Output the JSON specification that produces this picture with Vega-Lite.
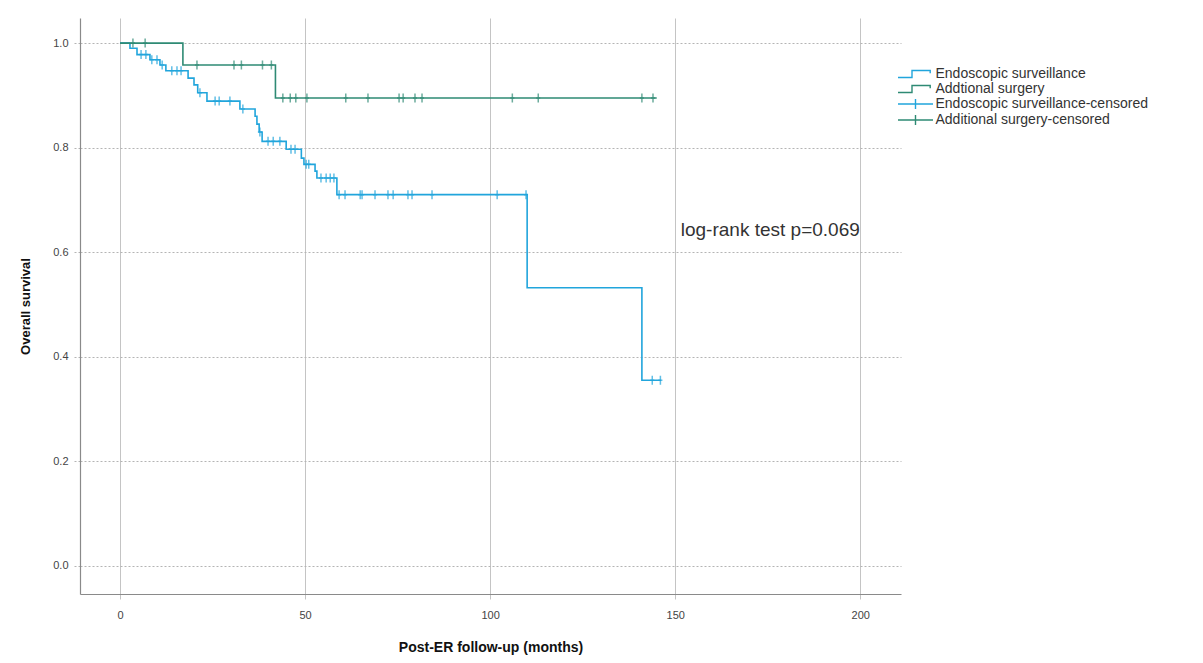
{
  "$schema": "https://vega.github.io/schema/vega-lite/v6.json",
  "autosize": "none",
  "width": 821,
  "height": 576,
  "padding": {"left": 80, "top": 18, "right": 302, "bottom": 69},
  "background": "white",
  "config": {
    "font": "Liberation Sans",
    "view": {"stroke": null},
    "axis": {"labelFont": "Liberation Sans", "titleFont": "Liberation Sans", "labelColor": "#444444", "titleColor": "#111111"}
  },
  "datasets": {
    "curves": [
      {"series": "Endoscopic surveillance", "t": 0, "s": 1.0},
      {"series": "Endoscopic surveillance", "t": 2.7, "s": 0.99},
      {"series": "Endoscopic surveillance", "t": 4.6, "s": 0.978},
      {"series": "Endoscopic surveillance", "t": 8.1, "s": 0.968},
      {"series": "Endoscopic surveillance", "t": 10.8, "s": 0.958},
      {"series": "Endoscopic surveillance", "t": 12.4, "s": 0.947},
      {"series": "Endoscopic surveillance", "t": 18.4, "s": 0.933},
      {"series": "Endoscopic surveillance", "t": 20.0, "s": 0.92},
      {"series": "Endoscopic surveillance", "t": 21.0, "s": 0.905},
      {"series": "Endoscopic surveillance", "t": 23.5, "s": 0.889},
      {"series": "Endoscopic surveillance", "t": 32.4, "s": 0.874},
      {"series": "Endoscopic surveillance", "t": 36.5, "s": 0.86},
      {"series": "Endoscopic surveillance", "t": 37.0, "s": 0.845},
      {"series": "Endoscopic surveillance", "t": 37.6, "s": 0.83},
      {"series": "Endoscopic surveillance", "t": 38.4, "s": 0.812},
      {"series": "Endoscopic surveillance", "t": 44.9, "s": 0.797},
      {"series": "Endoscopic surveillance", "t": 49.0, "s": 0.78},
      {"series": "Endoscopic surveillance", "t": 49.7, "s": 0.768},
      {"series": "Endoscopic surveillance", "t": 52.7, "s": 0.755},
      {"series": "Endoscopic surveillance", "t": 53.2, "s": 0.742},
      {"series": "Endoscopic surveillance", "t": 58.6, "s": 0.71},
      {"series": "Endoscopic surveillance", "t": 110.0, "s": 0.532},
      {"series": "Endoscopic surveillance", "t": 141.0, "s": 0.355},
      {"series": "Endoscopic surveillance", "t": 146.2, "s": 0.355},
      {"series": "Addtional surgery", "t": 0, "s": 1.0},
      {"series": "Addtional surgery", "t": 17.0, "s": 0.958},
      {"series": "Addtional surgery", "t": 42.0, "s": 0.895},
      {"series": "Addtional surgery", "t": 145.0, "s": 0.895}
    ],
    "censor": [
      {"series": "Endoscopic surveillance-censored", "t": 5.7, "s": 0.978},
      {"series": "Endoscopic surveillance-censored", "t": 7.0, "s": 0.978},
      {"series": "Endoscopic surveillance-censored", "t": 8.6, "s": 0.968},
      {"series": "Endoscopic surveillance-censored", "t": 10.0, "s": 0.968},
      {"series": "Endoscopic surveillance-censored", "t": 11.4, "s": 0.958},
      {"series": "Endoscopic surveillance-censored", "t": 14.0, "s": 0.947},
      {"series": "Endoscopic surveillance-censored", "t": 15.4, "s": 0.947},
      {"series": "Endoscopic surveillance-censored", "t": 16.5, "s": 0.947},
      {"series": "Endoscopic surveillance-censored", "t": 21.6, "s": 0.905},
      {"series": "Endoscopic surveillance-censored", "t": 25.7, "s": 0.889},
      {"series": "Endoscopic surveillance-censored", "t": 26.8, "s": 0.889},
      {"series": "Endoscopic surveillance-censored", "t": 29.7, "s": 0.889},
      {"series": "Endoscopic surveillance-censored", "t": 33.2, "s": 0.874},
      {"series": "Endoscopic surveillance-censored", "t": 37.8, "s": 0.83},
      {"series": "Endoscopic surveillance-censored", "t": 40.0, "s": 0.812},
      {"series": "Endoscopic surveillance-censored", "t": 41.4, "s": 0.812},
      {"series": "Endoscopic surveillance-censored", "t": 43.2, "s": 0.812},
      {"series": "Endoscopic surveillance-censored", "t": 46.2, "s": 0.797},
      {"series": "Endoscopic surveillance-censored", "t": 47.3, "s": 0.797},
      {"series": "Endoscopic surveillance-censored", "t": 50.3, "s": 0.768},
      {"series": "Endoscopic surveillance-censored", "t": 51.0, "s": 0.768},
      {"series": "Endoscopic surveillance-censored", "t": 54.3, "s": 0.742},
      {"series": "Endoscopic surveillance-censored", "t": 55.7, "s": 0.742},
      {"series": "Endoscopic surveillance-censored", "t": 56.8, "s": 0.742},
      {"series": "Endoscopic surveillance-censored", "t": 57.8, "s": 0.742},
      {"series": "Endoscopic surveillance-censored", "t": 59.2, "s": 0.71},
      {"series": "Endoscopic surveillance-censored", "t": 60.8, "s": 0.71},
      {"series": "Endoscopic surveillance-censored", "t": 64.9, "s": 0.71},
      {"series": "Endoscopic surveillance-censored", "t": 65.4, "s": 0.71},
      {"series": "Endoscopic surveillance-censored", "t": 68.9, "s": 0.71},
      {"series": "Endoscopic surveillance-censored", "t": 72.4, "s": 0.71},
      {"series": "Endoscopic surveillance-censored", "t": 73.8, "s": 0.71},
      {"series": "Endoscopic surveillance-censored", "t": 77.8, "s": 0.71},
      {"series": "Endoscopic surveillance-censored", "t": 78.9, "s": 0.71},
      {"series": "Endoscopic surveillance-censored", "t": 84.3, "s": 0.71},
      {"series": "Endoscopic surveillance-censored", "t": 101.9, "s": 0.71},
      {"series": "Endoscopic surveillance-censored", "t": 109.7, "s": 0.71},
      {"series": "Endoscopic surveillance-censored", "t": 143.8, "s": 0.355},
      {"series": "Endoscopic surveillance-censored", "t": 146.0, "s": 0.355},
      {"series": "Additional surgery-censored", "t": 3.5, "s": 1.0},
      {"series": "Additional surgery-censored", "t": 6.8, "s": 1.0},
      {"series": "Additional surgery-censored", "t": 20.8, "s": 0.958},
      {"series": "Additional surgery-censored", "t": 30.8, "s": 0.958},
      {"series": "Additional surgery-censored", "t": 32.8, "s": 0.958},
      {"series": "Additional surgery-censored", "t": 38.5, "s": 0.958},
      {"series": "Additional surgery-censored", "t": 40.9, "s": 0.958},
      {"series": "Additional surgery-censored", "t": 44.0, "s": 0.895},
      {"series": "Additional surgery-censored", "t": 46.0, "s": 0.895},
      {"series": "Additional surgery-censored", "t": 47.5, "s": 0.895},
      {"series": "Additional surgery-censored", "t": 50.5, "s": 0.895},
      {"series": "Additional surgery-censored", "t": 61.0, "s": 0.895},
      {"series": "Additional surgery-censored", "t": 67.0, "s": 0.895},
      {"series": "Additional surgery-censored", "t": 75.4, "s": 0.895},
      {"series": "Additional surgery-censored", "t": 76.5, "s": 0.895},
      {"series": "Additional surgery-censored", "t": 79.7, "s": 0.895},
      {"series": "Additional surgery-censored", "t": 81.6, "s": 0.895},
      {"series": "Additional surgery-censored", "t": 106.0, "s": 0.895},
      {"series": "Additional surgery-censored", "t": 113.0, "s": 0.895},
      {"series": "Additional surgery-censored", "t": 141.0, "s": 0.895},
      {"series": "Additional surgery-censored", "t": 144.0, "s": 0.895}
    ],
    "note": [
      {"t": 151.5, "s": 0.643, "label": "log-rank test p=0.069"}
    ]
  },
  "layer": [
    {
      "data": {"name": "curves"},
      "mark": {"type": "line", "interpolate": "step-after", "strokeWidth": 1.6},
      "encoding": {
        "x": {
          "field": "t", "type": "quantitative",
          "scale": {"domain": [-10.8, 211], "nice": false, "zero": false},
          "axis": {
            "values": [0, 50, 100, 150, 200],
            "title": "Post-ER follow-up (months)",
            "titleFontSize": 14, "titleFontWeight": "bold", "titlePadding": 20,
            "labelFontSize": 11, "labelPadding": 10,
            "grid": true, "gridColor": "#c4c4c4", "gridWidth": 1,
            "domainColor": "#8a8a8a", "domainWidth": 1.2,
            "tickColor": "#c4c4c4", "tickSize": 5
          }
        },
        "y": {
          "field": "s", "type": "quantitative",
          "scale": {"domain": [-0.054, 1.048], "nice": false, "zero": false},
          "axis": {
            "values": [0, 0.2, 0.4, 0.6, 0.8, 1.0],
            "format": ".1f",
            "title": "Overall survival",
            "titleFontSize": 13, "titleFontWeight": "bold", "titlePadding": 20,
            "labelFontSize": 11, "labelPadding": 6,
            "grid": true, "gridColor": "#b4b4b4", "gridDash": [2, 2], "gridWidth": 1,
            "domainColor": "#8a8a8a", "domainWidth": 1.2,
            "tickColor": "#b4b4b4", "tickDash": [2, 2], "tickSize": 6
          }
        },
        "color": {
          "field": "series", "type": "nominal",
          "scale": {
            "domain": ["Endoscopic surveillance", "Addtional surgery", "Endoscopic surveillance-censored", "Additional surgery-censored"],
            "range": ["#21a5dc", "#2e8a74", "#21a5dc", "#2e8a74"]
          },
          "legend": {
            "title": null, "orient": "none", "legendX": 827.5, "legendY": 48,
            "labelFontSize": 14, "labelColor": "#333333", "labelFont": "Liberation Sans", "labelLimit": 400,
            "symbolSize": 196, "symbolStrokeWidth": 1.4, "symbolOpacity": 1, "rowPadding": -1.5, "labelOffset": 12
          }
        }
      }
    },
    {
      "data": {"name": "censor"},
      "mark": {"type": "point", "filled": false, "strokeWidth": 1.4, "size": 196, "opacity": 0},
      "encoding": {
        "x": {"field": "t", "type": "quantitative"},
        "y": {"field": "s", "type": "quantitative"},
        "color": {"field": "series", "type": "nominal"},
        "shape": {
          "field": "series", "type": "nominal",
          "scale": {
            "domain": ["Endoscopic surveillance", "Addtional surgery", "Endoscopic surveillance-censored", "Additional surgery-censored"],
            "range": ["M-2.5,0.5H-0.5V-0.5H2.1V-0.1", "M-2.5,0.5H-0.5V-0.5H2.1V-0.1", "M-2.5,0H2.5M0,-0.7V0.7", "M-2.5,0H2.5M0,-0.7V0.7"]
          }
        }
      }
    },
    {
      "data": {"name": "censor"},
      "mark": {"type": "point", "filled": false, "strokeWidth": 1.5, "size": 81, "shape": "M-0.45,0H0.45M0,-1V1"},
      "encoding": {
        "x": {"field": "t", "type": "quantitative"},
        "y": {"field": "s", "type": "quantitative"},
        "color": {"field": "series", "type": "nominal"}
      }
    },
    {
      "data": {"name": "note"},
      "mark": {"type": "text", "align": "left", "baseline": "middle", "fontSize": 19, "font": "Liberation Sans", "color": "#333333"},
      "encoding": {
        "x": {"field": "t", "type": "quantitative"},
        "y": {"field": "s", "type": "quantitative"},
        "text": {"field": "label"}
      }
    }
  ]
}
